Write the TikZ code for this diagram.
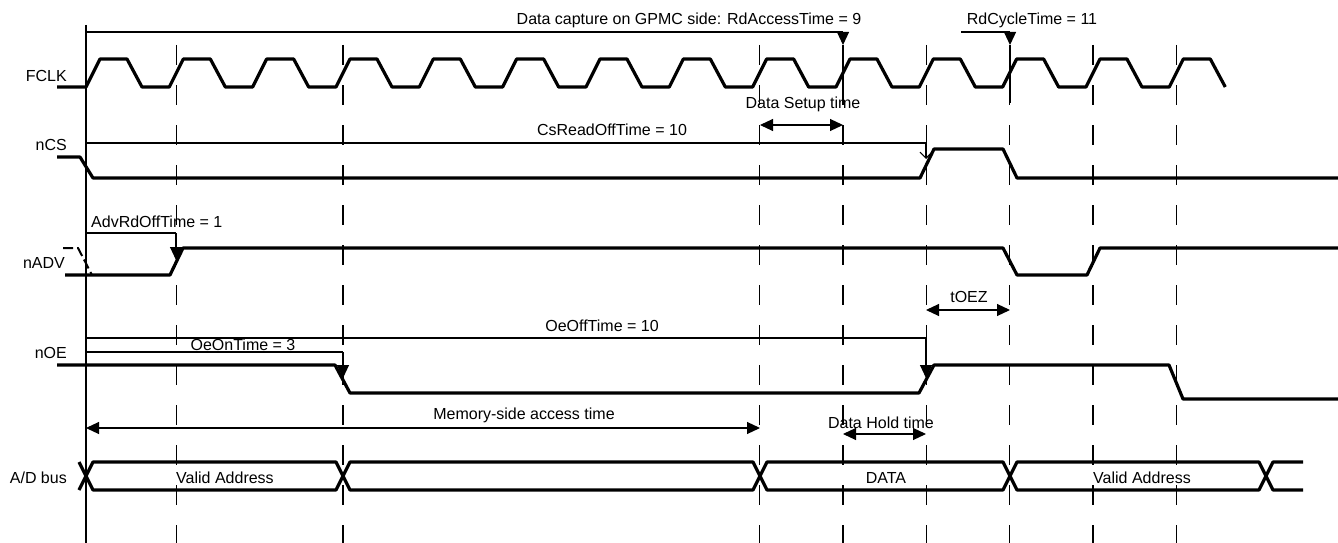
\documentclass[tikz,border=0pt]{standalone}
\usepackage{fontspec}
\setmainfont{Liberation Sans}
\usetikzlibrary{arrows.meta}

\begin{document}
\begin{tikzpicture}[x=1pt, y=-1pt,
    sigline/.style={line width=3.2pt, line join=round},
    thinline/.style={line width=1.1pt},
    timeline/.style={line width=1.2pt, dash pattern=on 20pt off 20pt},
    lbl/.style={font=\fontsize{16}{19}\selectfont, inner sep=0pt},
    tri/.style={thinline, -{Triangle[length=13pt, width=12pt]}},
    dbl/.style={thinline, {Triangle[length=13pt, width=12pt]}-{Triangle[length=13pt, width=12pt]}}]

    \useasboundingbox (0,0) rectangle (1338,543);

    % Time grid
    \draw[thinline] (86,25) -- (86,543);
    \foreach \k in {1,3,8,9,10,11,12,13}
        \draw[timeline] ({93+83.33*\k},45) -- ++(0,498);

    % Signal names
    \node[lbl, anchor=east] (fclk) at (67,76) {FCLK};
    \node[lbl, anchor=east] (ncs) at (67,145) {nCS};
    \node[lbl, anchor=east] (nadv) at (65,263) {nADV};
    \node[lbl, anchor=east] (noe) at (67,353) {nOE};
    \node[lbl, anchor=east] (adbus) at (67,478) {A/D bus};

    % FCLK
    \draw[sigline] (57,87) foreach \k in {0,...,13} {
        -- ({86+83.33*\k},87) -- ++(14,-28) -- ++(27,0) -- ++(15,28) };

    % Data capture: RdAccessTime = 9
    \draw[thinline] (86,32) -- (843,32);
    \draw[tri] (843,32) -- (843,45);
    \draw[thinline] (843,45) -- (843,103);
    \node[lbl] (rdaccess) at (689,20) {Data capture on GPMC side: RdAccessTime = 9};

    % RdCycleTime = 11
    \draw[thinline] (961,32) -- (1010,32);
    \draw[tri] (1010,32) -- (1010,45);
    \draw[thinline] (1010,45) -- (1010,103);
    \node[lbl] (rdcycle) at (1032,20) {RdCycleTime = 11};

    % Data setup
    \draw[dbl] (760,125) -- (843,125);
    \node[lbl] (dsetup) at (803,104) {Data Setup time};

    % nCS
    \draw[thinline, -{Straight Barb[length=6pt, width=12pt]}] (86,143) -- (926,143) -- (926,159);
    \node[lbl] (csoff) at (612,130) {CsReadOffTime = 10};
    \draw[sigline] (57,157) -- (80,157) -- (93,178) -- (920,178) -- (934,149)
        -- (1003,149) -- (1017,178) -- (1338,178);

    % nADV
    \draw[line width=2pt, dash pattern=on 10pt off 4pt] (63,248) -- (78,248) -- (92,275);
    \draw[thinline] (86,233) -- (176,233);
    \draw[tri] (176,233) -- (176,260);
    \node[lbl, anchor=west] (advoff) at (91,222) {AdvRdOffTime = 1};
    \draw[sigline] (65,275) -- (170,275) -- (183,248) -- (1003,248) -- (1017,275)
        -- (1087,275) -- (1100,248) -- (1338,248);

    % tOEZ
    \draw[dbl] (926,310) -- (1010,310);
    \node[lbl] (toez) at (969,297) {tOEZ};

    % nOE
    \draw[thinline] (86,338) -- (926,338);
    \draw[tri] (926,338) -- (926,378);
    \node[lbl] (oeoff) at (602,326) {OeOffTime = 10};
    \draw[thinline] (86,352) -- (343,352);
    \draw[tri] (343,352) -- (343,378);
    \node[lbl] (oeon) at (243,345) {OeOnTime = 3};
    \draw[sigline] (57,365) -- (335,365) -- (350,393) -- (919,393) -- (934,365)
        -- (1169,365) -- (1183,399) -- (1338,399);

    % Access and hold times
    \draw[dbl] (86,428) -- (760,428);
    \node[lbl] (memacc) at (524,415) {Memory-side access time};
    \draw[dbl] (843,434) -- (926,434);
    \node[lbl] (dhold) at (881,423) {Data Hold time};

    % A/D bus
    \draw[sigline] (79,462) -- (86,476) -- (79,490);
    \foreach \a/\b in {86/343, 343/760, 760/1010, 1010/1266}
        \draw[sigline] (\a,476) -- (\a+7,462) -- (\b-7,462) -- (\b,476)
            -- (\b-7,490) -- (\a+7,490) -- cycle;
    \draw[sigline] (1303,462) -- (1273,462) -- (1266,476) -- (1273,490) -- (1303,490);
    \node[lbl] (va1) at (225,478) {Valid Address};
    \node[lbl] (data) at (886,478) {DATA};
    \node[lbl] (va2) at (1142,478) {Valid Address};

\end{tikzpicture}
\end{document}
